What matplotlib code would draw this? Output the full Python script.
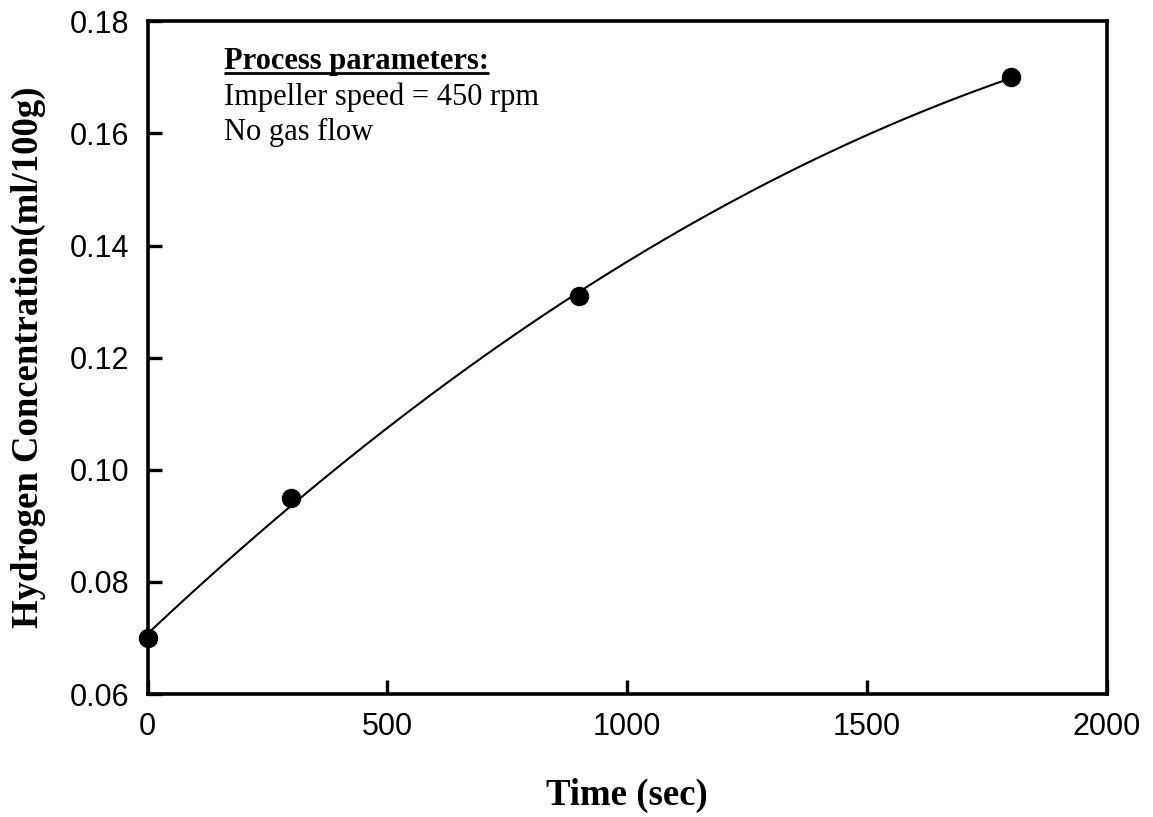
import numpy as np
import matplotlib
matplotlib.use("Agg")
import matplotlib.pyplot as plt

# data
time_s = [0, 300, 900, 1800]
h_conc = [0.070, 0.095, 0.131, 0.170]
x_ticks = [0, 500, 1000, 1500, 2000]
y_ticks = [0.06, 0.08, 0.10, 0.12, 0.14, 0.16, 0.18]
notes = ["Impeller speed = 450 rpm", "No gas flow"]

fig = plt.figure(figsize=(11.53, 8.17), dpi=100)
ax = fig.add_axes([0.128, 0.1505, 0.832, 0.8235])

# smooth fitted curve through the measured points
coef = np.polyfit(time_s, h_conc, 2)
tt = np.linspace(min(time_s), max(time_s), 200)
ax.plot(tt, np.polyval(coef, tt), color="black", lw=1.5, zorder=2)
ax.plot(time_s, h_conc, "o", color="black", ms=13, clip_on=False, zorder=3)

ax.set_xlim(0, 2000)
ax.set_ylim(0.06, 0.18)
ax.set_xticks(x_ticks)
ax.set_yticks(y_ticks)
ax.set_xticklabels([str(v) for v in x_ticks], family="Liberation Sans", fontsize=22)
ax.set_yticklabels([f"{v:.2f}" for v in y_ticks], family="Liberation Sans", fontsize=22)
ax.tick_params(direction="in", length=10, width=2.4, pad=13)
for s in ax.spines.values():
    s.set_linewidth(2.6)

ax.set_xlabel("Time (sec)", family="Liberation Serif", fontweight="bold", fontsize=26.5, labelpad=26)
ax.set_ylabel("Hydrogen Concentration(ml/100g)", family="Liberation Serif",
              fontweight="bold", fontsize=26.5, labelpad=17)

# process parameter text block
x0, y0, dy = 0.080, 0.929, 0.053
head = ax.text(x0, y0, "Process parameters:", transform=ax.transAxes,
               family="Liberation Serif", fontweight="bold", fontsize=22, va="baseline")
for i, line in enumerate(notes):
    ax.text(x0, y0 - (i + 1) * dy, line, transform=ax.transAxes,
            family="Liberation Serif", fontsize=22, va="baseline")

# underline the heading
fig.canvas.draw()
bb = head.get_window_extent().transformed(ax.transAxes.inverted())
yu = y0 - 4.0 / (ax.bbox.height)
ax.plot([bb.x0, bb.x1], [yu, yu], transform=ax.transAxes, color="black",
        lw=2, clip_on=False, solid_capstyle="butt")

fig.savefig("out.png", dpi=100)
